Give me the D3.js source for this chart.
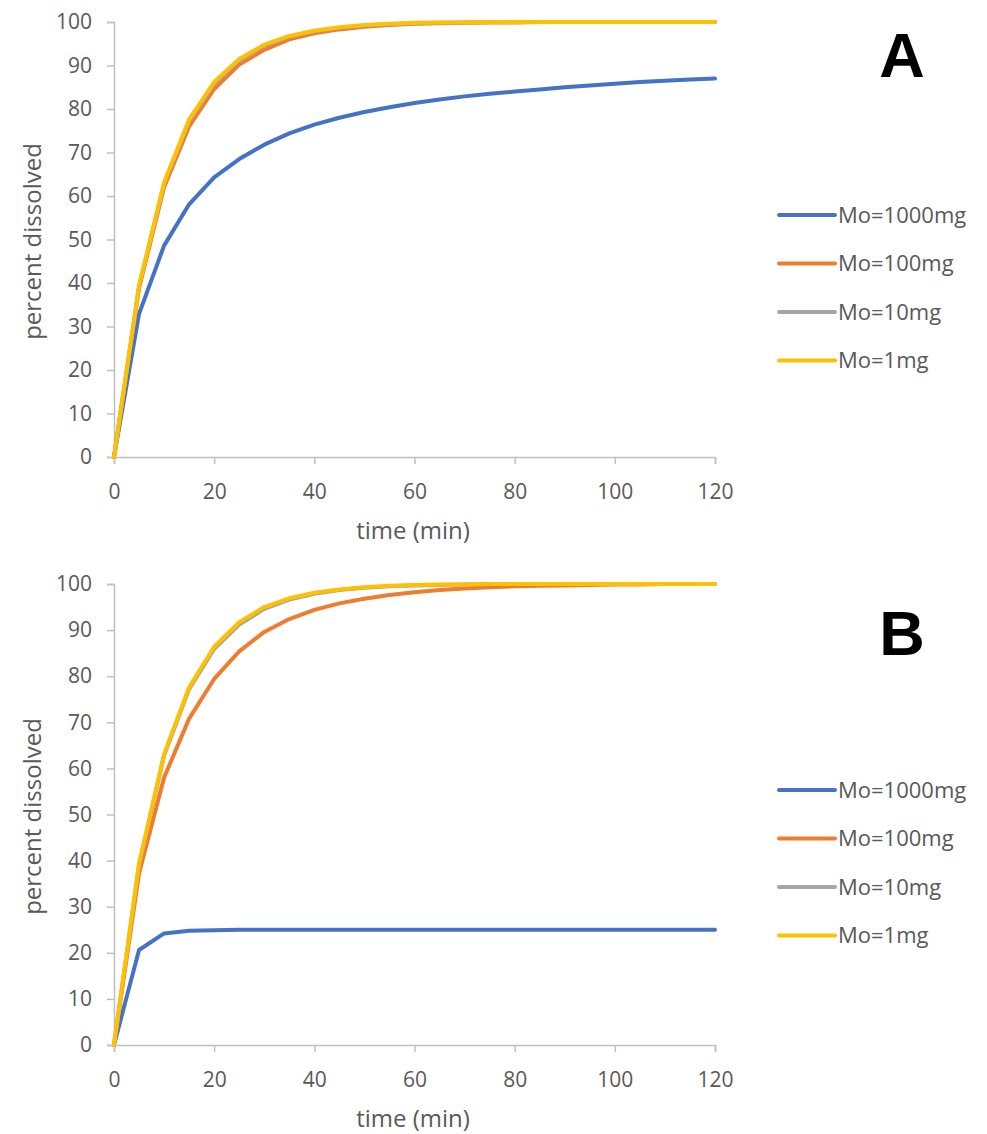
<!DOCTYPE html>
<html><head><meta charset="utf-8">
<script src="https://cdn.jsdelivr.net/npm/d3@7"></script>
<style>body{margin:0;background:#fff}svg{display:block}</style>
</head><body>
<script>
const times = d3.range(0, 121, 5);
const seriesNames = ["Mo=1000mg","Mo=100mg","Mo=10mg","Mo=1mg"];
const colors = ["#4472c4","#ed7d31","#a5a5a5","#ffc000"];
const xTicks = [0,20,40,60,80,100,120];
const yTicks = [0,10,20,30,40,50,60,70,80,90,100];

// Panel A
const a1000 = [0,32.9,48.6,58.1,64.3,68.5,71.8,74.4,76.4,78.0,79.3,80.4,81.4,82.2,82.9,83.5,84.0,84.5,85.0,85.4,85.8,86.2,86.5,86.8,87.0];
const a100  = [0,38.8,62.0,76.0,84.6,90.2,93.6,96.0,97.4,98.3,98.9,99.3,99.6,99.7,99.8,99.9,99.9,100,100,100,100,100,100,100,100];
const a10   = [0,39.2,62.8,77.2,85.8,91.2,94.6,96.6,97.9,98.7,99.2,99.5,99.7,99.8,99.9,100,100,100,100,100,100,100,100,100,100];
const a1    = [0,39.4,63.1,77.6,86.2,91.5,94.8,96.8,98.0,98.8,99.3,99.6,99.8,99.9,99.9,100,100,100,100,100,100,100,100,100,100];
// Panel B
const b1000 = [0,20.6,24.2,24.8,24.9,25,25,25,25,25,25,25,25,25,25,25,25,25,25,25,25,25,25,25,25];
const b100  = [0,37.2,58.0,70.8,79.4,85.4,89.6,92.4,94.4,95.8,96.8,97.6,98.2,98.7,99.0,99.3,99.5,99.6,99.7,99.8,99.9,99.9,100,100,100];
const b10   = [0,39.0,62.8,77.2,85.9,91.2,94.6,96.6,97.9,98.7,99.2,99.5,99.7,99.8,99.9,100,100,100,100,100,100,100,100,100,100];
const b1    = [0,39.4,63.1,77.6,86.4,91.7,95.0,96.9,98.1,98.8,99.3,99.6,99.8,99.9,99.9,100,100,100,100,100,100,100,100,100,100];

const panels = [
  {letter:"A", data:[a1000,a100,a10,a1], top:22, bottom:457, legendY:215, letterY:77, titleY:539},
  {letter:"B", data:[b1000,b100,b10,b1], top:584, bottom:1045, legendY:790, letterY:655, titleY:1127}
];

const W = 987, H = 1134;
const svg = d3.select("body").append("svg").attr("width", W).attr("height", H)
  .style("font-family", "'Open Sans', sans-serif");

const x = d3.scaleLinear().domain([0,120]).range([114, 715]);
const axisColor = "#bfbfbf", textColor = "#595959";

panels.forEach(p => {
  const y = d3.scaleLinear().domain([0,100]).range([p.bottom, p.top]);
  const g = svg.append("g");

  // y axis
  const ya = g.append("g").attr("transform", `translate(${x(0)},0)`)
    .call(d3.axisLeft(y).tickValues(yTicks).tickSize(7).tickPadding(15));
  ya.select(".domain").attr("stroke", axisColor).attr("stroke-width", 1.5);
  ya.selectAll(".tick line").attr("stroke", axisColor).attr("stroke-width", 1.5);
  ya.selectAll(".tick text").attr("fill", textColor).style("font-size", "21px")
    .style("font-family", "'Open Sans', sans-serif");

  // x axis
  const xa = g.append("g").attr("transform", `translate(0,${p.bottom})`)
    .call(d3.axisBottom(x).tickValues(xTicks).tickSize(7).tickPadding(20));
  xa.select(".domain").attr("stroke", axisColor).attr("stroke-width", 1.5);
  xa.selectAll(".tick line").attr("stroke", axisColor).attr("stroke-width", 1.5);
  xa.selectAll(".tick text").attr("fill", textColor).style("font-size", "21px")
    .style("font-family", "'Open Sans', sans-serif");

  // axis titles
  g.append("text").attr("x", 413).attr("y", p.titleY)
    .attr("text-anchor", "middle").attr("fill", textColor).style("font-size", "24px")
    .text("time (min)");
  g.append("text")
    .attr("transform", `translate(41,${(p.top+p.bottom)/2 + 2}) rotate(-90)`)
    .attr("text-anchor", "middle").attr("fill", textColor).style("font-size", "24px")
    .text("percent dissolved");

  // lines
  const line = d3.line().x((d,i) => x(times[i])).y(d => y(d));
  p.data.forEach((s, k) => {
    g.append("path").datum(s).attr("d", line).attr("fill", "none")
      .attr("stroke", colors[k]).attr("stroke-width", 4)
      .attr("stroke-linejoin", "round").attr("stroke-linecap", "round");
  });

  // legend
  seriesNames.forEach((n, k) => {
    const ly = p.legendY + k*48.5;
    g.append("line").attr("x1", 779).attr("x2", 835).attr("y1", ly).attr("y2", ly)
      .attr("stroke", colors[k]).attr("stroke-width", 4).attr("stroke-linecap", "round");
    g.append("text").attr("x", 838).attr("y", ly).attr("dy", "0.36em")
      .attr("fill", textColor).style("font-size", "22px").text(n);
  });

  // panel letter
  g.append("text").attr("x", 902).attr("y", p.letterY).attr("text-anchor", "middle")
    .style("font-family", "Arial, 'Liberation Sans', sans-serif").style("font-weight", "bold")
    .style("font-size", "63px").attr("fill", "#000").text(p.letter);
});
</script>
</body></html>
